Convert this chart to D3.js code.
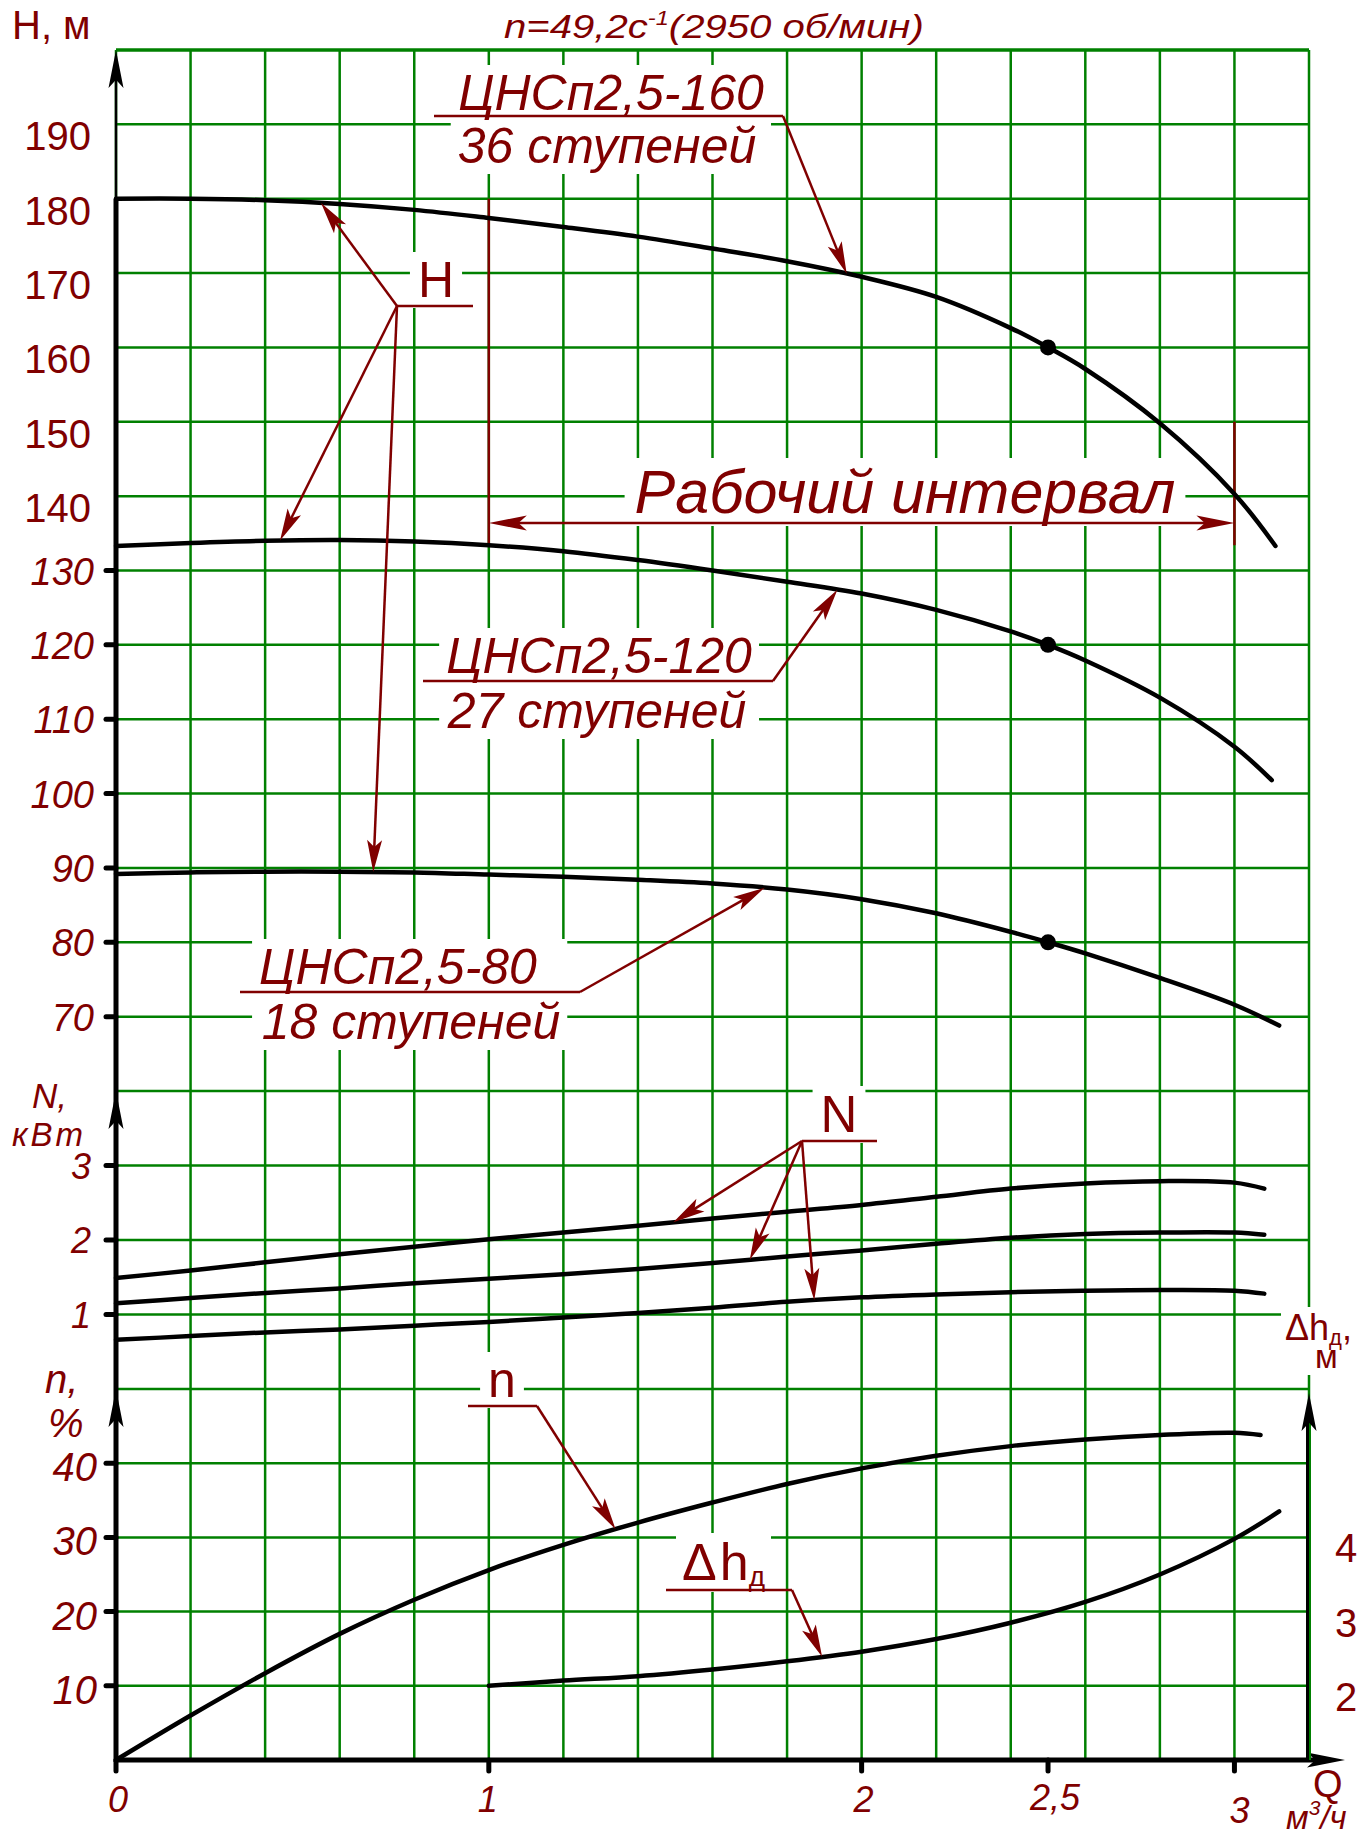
<!DOCTYPE html>
<html><head><meta charset="utf-8">
<script src="https://cdn.jsdelivr.net/npm/d3@7"></script>
<style>body{margin:0;background:#fff} svg text{font-family:"Liberation Sans",Arial,sans-serif}</style>
</head><body><svg id="c" width="1362" height="1838"></svg>
<script>
// ---------- data ----------
const q160 = [0,0.2,0.4,0.6,0.8,1.0,1.2,1.4,1.6,1.8,2.0,2.2,2.4,2.5,2.6,2.8,3.0,3.11];
const h160 = [180.0,180.0,179.8,179.3,178.5,177.4,176.2,174.9,173.3,171.6,169.5,166.8,162.6,160.0,157.1,149.8,140.3,133.3];
const q120 = [0,0.2,0.4,0.6,0.8,1.0,1.2,1.4,1.6,1.8,2.0,2.2,2.4,2.5,2.6,2.8,3.0,3.1];
const h120 = [133.3,133.7,134.0,134.1,133.9,133.4,132.6,131.4,130.0,128.5,126.9,124.7,121.8,120.0,117.9,112.9,106.3,101.8];
const q80 = [0,0.2,0.4,0.6,0.8,1.0,1.2,1.4,1.6,1.8,2.0,2.2,2.4,2.5,2.6,2.8,3.0,3.12];
const h80 = [89.2,89.4,89.5,89.5,89.4,89.1,88.8,88.4,87.9,87.1,85.8,83.9,81.4,80.0,78.5,75.2,71.6,68.8];
const qN = [0,0.2,0.4,0.6,0.8,1.0,1.2,1.4,1.6,1.8,2.0,2.2,2.4,2.6,2.8,3.0,3.08];
const n160 = [1.49,1.59,1.70,1.81,1.91,2.01,2.10,2.19,2.29,2.38,2.47,2.58,2.69,2.76,2.79,2.77,2.69];
const n120 = [1.15,1.22,1.29,1.35,1.42,1.48,1.54,1.61,1.69,1.78,1.86,1.95,2.03,2.08,2.10,2.10,2.07];
const n80  = [0.66,0.71,0.76,0.80,0.85,0.90,0.96,1.02,1.09,1.17,1.23,1.27,1.30,1.32,1.33,1.32,1.28];
const qEta = [0,0.2,0.4,0.6,0.8,1.0,1.2,1.4,1.6,1.8,2.0,2.2,2.4,2.6,2.8,3.0,3.07];
const eta  = [0,6.0,11.7,17.0,21.6,25.6,29.0,32.0,34.7,37.2,39.3,41.0,42.3,43.2,43.8,44.1,43.8];
const qDh = [1.0,1.2,1.4,1.6,1.8,2.0,2.2,2.4,2.6,2.8,3.0,3.12];
const dh  = [2.0,2.07,2.13,2.22,2.33,2.46,2.63,2.85,3.13,3.50,3.98,4.35];
const dutyQ = 2.5;
const dutyH = [160,120,80];
const workRange = [1,3];
const hTicksUpright = [140,150,160,170,180,190];
const hTicksItalic = [70,80,90,100,110,120,130];
const nTicks = [1,2,3];
const etaTicks = [10,20,30,40];
const dhTicks = [2,3,4];
const qTicks = [0,1,2,2.5,3];
const qTickLabels = ["0","1","2","2,5","3"];

// ---------- scales ----------
const x  = d3.scaleLinear().domain([0,3.2]).range([116,1309]);
const yH = d3.scaleLinear().domain([60,200]).range([1091,50]);
const yN = d3.scaleLinear().domain([0,4]).range([1389,1091]);
const yE = d3.scaleLinear().domain([0,50]).range([1760,1389]);
const yD = d3.scaleLinear().domain([1,6]).range([1760,1389]);

const RED = '#800000', GREEN = '#008000';
const svg = d3.select('#c');
const gGrid = svg.append('g'), gMask = svg.append('g'), gRed = svg.append('g'),
      gCurve = svg.append('g'), gAxis = svg.append('g'), gAnno = svg.append('g');

function interp(qs, vs, q){
  for(let i=0;i<qs.length-1;i++){ if(q>=qs[i] && q<=qs[i+1]){ const t=(q-qs[i])/(qs[i+1]-qs[i]); return vs[i]+t*(vs[i+1]-vs[i]); } }
  return vs[vs.length-1];
}
function txt(g, s, px, py, size, italic, anchor, fill){
  return g.append('text').attr('x',px).attr('y',py).attr('font-size',size)
    .attr('font-style', italic?'italic':'normal').attr('text-anchor', anchor||'start')
    .attr('fill', fill||RED).text(s);
}
function mask(nodes, px, py){
  let x0=1e9,y0=1e9,x1=-1e9,y1=-1e9;
  nodes.forEach(n=>{const b=n.node().getBBox(); x0=Math.min(x0,b.x); y0=Math.min(y0,b.y); x1=Math.max(x1,b.x+b.width); y1=Math.max(y1,b.y+b.height);});
  gMask.append('rect').attr('x',x0-px).attr('y',y0-py).attr('width',x1-x0+2*px).attr('height',y1-y0+2*py).attr('fill','#fff');
}
function head(g, x1,y1,x2,y2,color,len,half){
  const dx=x2-x1, dy=y2-y1, L=Math.hypot(dx,dy), ux=dx/L, uy=dy/L, px=-uy, py=ux;
  const bx=x2-len*ux, by=y2-len*uy, nx=x2-0.78*len*ux, ny=y2-0.78*len*uy;
  g.append('polygon').attr('points',[[x2,y2],[bx+half*px,by+half*py],[nx,ny],[bx-half*px,by-half*py]].map(p=>p.join(',')).join(' '))
    .attr('fill',color);
}
function leader(g, x1,y1,x2,y2){
  const dx=x2-x1, dy=y2-y1, L=Math.hypot(dx,dy);
  g.append('line').attr('x1',x1).attr('y1',y1).attr('x2',x2-dx/L*20).attr('y2',y2-dy/L*20)
    .attr('stroke',RED).attr('stroke-width',2.5);
  head(g,x1,y1,x2,y2,RED,32,7.5);
}
function hline(g,x1,x2,yy){ g.append('line').attr('x1',x1).attr('x2',x2).attr('y1',yy).attr('y2',yy).attr('stroke',RED).attr('stroke-width',2.5); }

// ---------- grid ----------
gGrid.selectAll('line.v').data(d3.range(0,17).map(i=>i*0.2)).join('line').attr('class','v')
  .attr('x1',d=>x(d)).attr('x2',d=>x(d)).attr('y1',yH(200)).attr('y2',yE(0))
  .attr('stroke',GREEN).attr('stroke-width',2.5);
const rows = [...d3.range(60,201,10).map(v=>yH(v)), ...[0,1,2,3].map(v=>yN(v)), ...[10,20,30,40].map(v=>yE(v))];
gGrid.selectAll('line.h').data(rows).join('line').attr('class','h')
  .attr('x1',x(0)).attr('x2',x(3.2)).attr('y1',d=>d).attr('y2',d=>d)
  .attr('stroke',GREEN).attr('stroke-width',(d,i)=> d===yH(200)?3.5:2.5);

// ---------- curves ----------
function curve(qs, vs, ys){
  const line = d3.line().x(d=>x(d[0])).y(d=>ys(d[1])).curve(d3.curveCatmullRom.alpha(0.5));
  gCurve.append('path').attr('d', line(qs.map((q,i)=>[q,vs[i]])))
    .attr('fill','none').attr('stroke','#000').attr('stroke-width',4.5).attr('stroke-linecap','round');
}
curve(q160,h160,yH); curve(q120,h120,yH); curve(q80,h80,yH);
curve(qN,n160,yN); curve(qN,n120,yN); curve(qN,n80,yN);
curve(qEta,eta,yE); curve(qDh,dh,yD);
gCurve.selectAll('circle').data(dutyH).join('circle').attr('cx',x(dutyQ)).attr('cy',d=>yH(d)).attr('r',8).attr('fill','#000');

// ---------- working interval ----------
const yWorkBottom = yH(interp(q120,h120,workRange[0]));
gRed.append('line').attr('x1',x(workRange[0])).attr('x2',x(workRange[0])).attr('y1',yH(180)).attr('y2',yWorkBottom).attr('stroke',RED).attr('stroke-width',2.5);
gRed.append('line').attr('x1',x(workRange[1])).attr('x2',x(workRange[1])).attr('y1',yH(150)).attr('y2',yWorkBottom).attr('stroke',RED).attr('stroke-width',2.5);
const yArr = 523;
gRed.append('line').attr('x1',x(workRange[0])+20).attr('x2',x(workRange[1])-20).attr('y1',yArr).attr('y2',yArr).attr('stroke',RED).attr('stroke-width',2.5);
head(gRed, x(2), yArr, x(workRange[0]), yArr, RED, 38, 7.5);
head(gRed, x(2), yArr, x(workRange[1]), yArr, RED, 38, 7.5);
const tWork = txt(gAnno,'Рабочий интервал',905,513,61,true,'middle');
mask([tWork],10,0);

// ---------- axes ----------
const ax = x(0);
gAxis.append('line').attr('x1',ax).attr('x2',ax).attr('y1',yH(180)).attr('y2',yE(0)+2).attr('stroke','#000').attr('stroke-width',5);
gAxis.append('line').attr('x1',ax).attr('x2',ax).attr('y1',yH(200)+20).attr('y2',yH(180)).attr('stroke','#000').attr('stroke-width',2.5);
head(gAxis, ax, 300, ax, yH(200), '#000', 38, 7.5);
head(gAxis, ax, 1300, ax, yN(4), '#000', 38, 7.5);
head(gAxis, ax, 1600, ax, yE(50), '#000', 38, 7.5);
gAxis.append('line').attr('x1',ax-2).attr('x2',x(3.2)+10).attr('y1',yE(0)).attr('y2',yE(0)).attr('stroke','#000').attr('stroke-width',5);
head(gAxis, x(3), yE(0), x(3.2)+36, yE(0), '#000', 38, 7.5);
const rx = x(3.2);
gAxis.append('line').attr('x1',rx-1).attr('x2',rx-1).attr('y1',yE(50)+20).attr('y2',yE(0)).attr('stroke','#000').attr('stroke-width',4);
gAxis.append('line').attr('x1',rx+1).attr('x2',rx+1).attr('y1',yE(50)+30).attr('y2',yE(0)).attr('stroke',GREEN).attr('stroke-width',2);
head(gAxis, rx, 1600, rx, yE(50)+4, '#000', 38, 7.5);

// ticks
const leftTicks = [...hTicksItalic.map(v=>yH(v)), ...nTicks.map(v=>yN(v)), ...etaTicks.map(v=>yE(v))];
gAxis.selectAll('line.lt').data(leftTicks).join('line').attr('class','lt')
  .attr('x1',ax-10).attr('x2',ax).attr('y1',d=>d).attr('y2',d=>d).attr('stroke','#000').attr('stroke-width',5).attr('stroke-linecap','round');
gAxis.selectAll('line.bt').data(qTicks).join('line').attr('class','bt')
  .attr('x1',d=>x(d)).attr('x2',d=>x(d)).attr('y1',yE(0)).attr('y2',yE(0)+11).attr('stroke','#000').attr('stroke-width',5).attr('stroke-linecap','round');

// tick labels
hTicksUpright.forEach(v=>txt(gAnno,String(v),91,yH(v)+26,40,false,'end'));
hTicksItalic.forEach(v=>txt(gAnno,String(v),94,yH(v)+14,38,true,'end'));
nTicks.forEach(v=>txt(gAnno,String(v),91,yN(v)+13,36,true,'end'));
etaTicks.forEach(v=>txt(gAnno,String(v),97,yE(v)+18,40,true,'end'));
dhTicks.forEach(v=>txt(gAnno,String(v),1346,yD(v)+25,40,false,'middle'));
const qLabY = [1812,1812,1812,1810,1823];
const qLabDx = [2,-1,2,7,5];
qTicks.forEach((v,i)=>txt(gAnno,qTickLabels[i],x(v)+qLabDx[i],qLabY[i],36,true,'middle'));

// axis titles
txt(gAnno,'H, м',12,39,40,false);
txt(gAnno,'N,',32,1108,35,true);
txt(gAnno,'кВт',12,1146,33,true).attr('letter-spacing',3);
txt(gAnno,'n,',45,1393,40,true);
txt(gAnno,'%',48,1437,40,true);
// Q axis title with unit (one text element)
{ const t = gAnno.append('text').attr('x',1313).attr('y',1797).attr('font-size',38).attr('fill',RED);
  t.append('tspan').text('Q');
  t.append('tspan').attr('x',1286).attr('y',1829).attr('font-size',33).attr('font-style','italic').text('м');
  t.append('tspan').attr('dy',-14).attr('font-size',21).attr('font-style','italic').text('3');
  t.append('tspan').attr('dy',14).attr('font-size',33).attr('font-style','italic').text('/ч'); }
// Δhд, м title (one text element)
{ const t = gAnno.append('text').attr('x',1285).attr('y',1340).attr('font-size',36).attr('fill',RED);
  t.append('tspan').text('Δh');
  t.append('tspan').attr('dy',5).attr('font-size',22).text('д');
  t.append('tspan').attr('dy',-5).text(',');
  t.append('tspan').attr('x',1315).attr('y',1368).attr('font-size',33).text('м');
  mask([t],4,0); }

// top title
const tTop = gAnno.append('text').attr('x',0).attr('y',38).attr('font-size',34).attr('font-style','italic').attr('fill',RED);
tTop.append('tspan').text('n=49,2с');
tTop.append('tspan').attr('dy',-13).attr('font-size',20).text('-1');
tTop.append('tspan').attr('dy',13).text('(2950 об/мин)');
{ const b=tTop.node().getBBox(); tTop.attr('transform',`translate(504,0) scale(${420/b.width},1)`); }

// ---------- annotations ----------
// ЦНСп2,5-160
{ const a=txt(gAnno,'ЦНСп2,5-160',611,110,50,true,'middle');
  const b=txt(gAnno,'36 ступеней',607,163,50,true,'middle');
  mask([a,b],7,0);
  hline(gAnno,434,783,116);
  const tq=1.96; leader(gAnno,783,116,x(tq),yH(interp(q160,h160,tq))); }
// Н
{ const a=txt(gAnno,'Н',436,297,50,false,'middle');
  mask([a],8,0);
  hline(gAnno,397,473,306);
  [[q160,h160,0.55],[q120,h120,0.44],[q80,h80,0.69]].forEach(([qs,vs,tq])=>leader(gAnno,397,306,x(tq),yH(interp(qs,vs,tq)))); }
// ЦНСп2,5-120
{ const a=txt(gAnno,'ЦНСп2,5-120',599,673,50,true,'middle');
  const b=txt(gAnno,'27 ступеней',597,728,50,true,'middle');
  mask([a,b],7,0);
  hline(gAnno,423,773,681);
  const tq=1.935; leader(gAnno,773,681,x(tq),yH(interp(q120,h120,tq))); }
// ЦНСп2,5-80
{ const a=txt(gAnno,'ЦНСп2,5-80',398,984,50,true,'middle');
  const b=txt(gAnno,'18 ступеней',411,1039,50,true,'middle');
  mask([a,b],7,0);
  hline(gAnno,240,580,992);
  const tq=1.74; leader(gAnno,580,992,x(tq),yH(interp(q80,h80,tq))); }
// N
{ const a=txt(gAnno,'N',839,1132,51,false,'middle');
  mask([a],8,0);
  hline(gAnno,802,877,1141);
  [[n160,1.495],[n120,1.70],[n80,1.873]].forEach(([vs,tq])=>leader(gAnno,802,1141,x(tq),yN(interp(qN,vs,tq)))); }
// n (efficiency)
{ const a=txt(gAnno,'n',502,1397,50,false,'middle');
  mask([a],8,0);
  hline(gAnno,468,537,1406);
  const tq=1.34; leader(gAnno,537,1406,x(tq),yE(interp(qEta,eta,tq))); }
// Δhд
{ const a=gAnno.append('text').attr('x',682).attr('y',1580).attr('font-size',52).attr('fill',RED);
  a.append('tspan').text('Δ');
  a.append('tspan').attr('dx',3).text('h');
  a.append('tspan').attr('dy',6).attr('font-size',28).text('д');
  mask([a],6,0);
  hline(gAnno,666,792,1590);
  const tq=1.894; leader(gAnno,792,1590,x(tq),yD(interp(qDh,dh,tq))); }
</script></body></html>
